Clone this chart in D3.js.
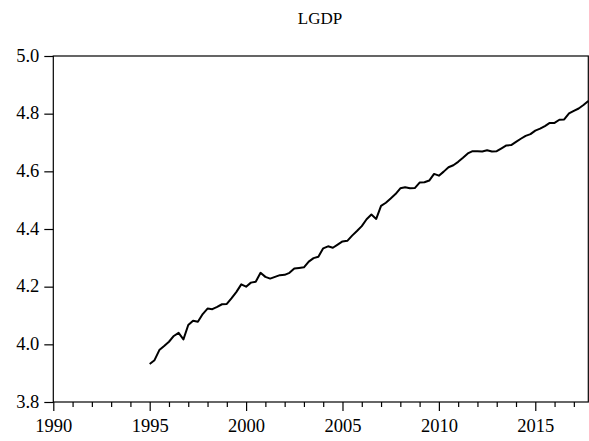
<!DOCTYPE html>
<html>
<head>
<meta charset="utf-8">
<script src="https://cdn.jsdelivr.net/npm/d3@7"></script>
<style>
  html, body { margin: 0; padding: 0; background: #fff; }
  svg { display: block; }
  text { font-family: "Liberation Serif", "Times New Roman", serif; fill: #000; }
</style>
</head>
<body>
<svg id="chart" width="589" height="441"></svg>
<script>
const title = "LGDP";
const startYear = 1995;
const lgdp = [
  3.932, 3.945, 3.980, 3.994,
  4.009, 4.029, 4.040, 4.017,
  4.067, 4.082, 4.078, 4.105,
  4.124, 4.122, 4.130, 4.139,
  4.140, 4.160, 4.182, 4.208,
  4.200, 4.214, 4.217, 4.248,
  4.234, 4.228, 4.234, 4.240,
  4.241, 4.248, 4.263, 4.265,
  4.267, 4.287, 4.299, 4.304,
  4.333, 4.340, 4.335, 4.346,
  4.357, 4.359, 4.377, 4.393,
  4.410, 4.434, 4.450, 4.435,
  4.480, 4.491, 4.506, 4.521,
  4.541, 4.545, 4.541, 4.542,
  4.561, 4.562, 4.568, 4.591,
  4.585, 4.599, 4.614, 4.621,
  4.633, 4.647, 4.662, 4.670,
  4.670, 4.669, 4.673, 4.669,
  4.670, 4.680, 4.690, 4.691,
  4.702, 4.713, 4.723, 4.729,
  4.741, 4.748, 4.757, 4.768,
  4.768, 4.779, 4.780, 4.801,
  4.810, 4.818, 4.830, 4.844
];
const yTicks = [3.8, 4.0, 4.2, 4.4, 4.6, 4.8, 5.0];
const xMajorTicks = [1990, 1995, 2000, 2005, 2010, 2015];
const xMinorTicks = d3.range(1990, 2018);
const xDomain = [1990, 2017.75];
const yDomain = [3.8, 5.0];

const data = lgdp.map((v, i) => ({ t: startYear + i / 4, v }));

const svg = d3.select("#chart");
const m = { left: 53.3, right: 588.3, top: 56, bottom: 402 };

const x = d3.scaleLinear().domain(xDomain).range([m.left, m.right]);
const y = d3.scaleLinear().domain(yDomain).range([m.bottom, m.top]);

// title
svg.append("text")
  .attr("x", 320).attr("y", 24)
  .attr("text-anchor", "middle")
  .style("font-size", "17px")
  .text(title);

// frame
svg.append("rect")
  .attr("x", m.left).attr("y", m.top)
  .attr("width", m.right - m.left).attr("height", m.bottom - m.top)
  .attr("fill", "none").attr("stroke", "#000").attr("stroke-width", 1.2);

// y axis
const yAxis = d3.axisLeft(y).tickValues(yTicks).tickFormat(d3.format(".1f"))
  .tickSize(9).tickPadding(5);
const gy = svg.append("g").attr("transform", `translate(${m.left},0)`).call(yAxis);
gy.select(".domain").remove();
gy.selectAll("line").attr("stroke", "#000").attr("stroke-width", 1.2);
gy.selectAll("text").style("font-size", "18.5px").style("font-family", "Liberation Serif, serif")
  .attr("dy", "0.28em");

// x minor ticks
const xMinor = d3.axisBottom(x).tickValues(xMinorTicks.filter(d => d % 5 !== 0)).tickSize(5).tickFormat("");
const gxm = svg.append("g").attr("transform", `translate(0,${m.bottom})`).call(xMinor);
gxm.select(".domain").remove();
gxm.selectAll("line").attr("stroke", "#000").attr("stroke-width", 1.2);

// x major ticks
const xAxis = d3.axisBottom(x).tickValues(xMajorTicks).tickFormat(d3.format("d"))
  .tickSize(9).tickPadding(8);
const gx = svg.append("g").attr("transform", `translate(0,${m.bottom})`).call(xAxis);
gx.select(".domain").remove();
gx.selectAll("line").attr("stroke", "#000").attr("stroke-width", 1.2);
gx.selectAll("text").style("font-size", "18.5px").style("font-family", "Liberation Serif, serif");

// line
const line = d3.line().x(d => x(d.t)).y(d => y(d.v));
svg.append("path").datum(data)
  .attr("d", line)
  .attr("fill", "none")
  .attr("stroke", "#000")
  .attr("stroke-width", 2)
  .attr("stroke-linejoin", "round");
</script>
</body>
</html>
